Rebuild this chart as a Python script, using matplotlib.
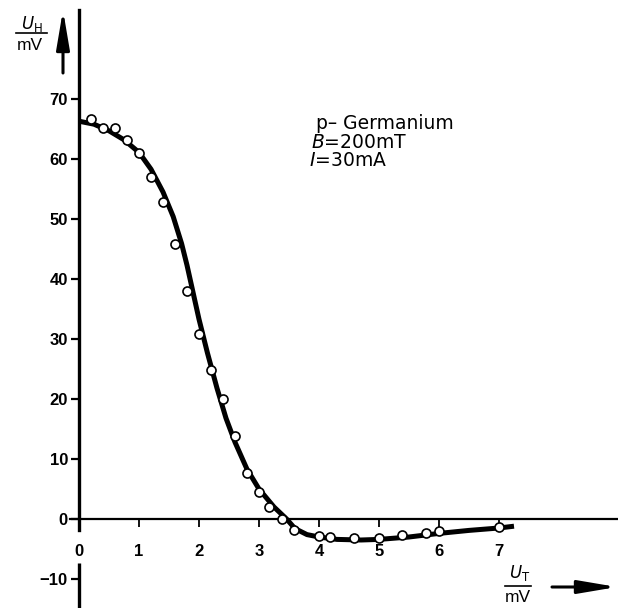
import matplotlib
matplotlib.use("Agg")
import matplotlib.pyplot as plt
from matplotlib.lines import Line2D

ut_meas = [0.2, 0.4, 0.6, 0.8, 1.0, 1.2, 1.4, 1.6, 1.8, 2.0, 2.2, 2.4, 2.6, 2.8,
           3.0, 3.17, 3.38, 3.58, 4.0, 4.18, 4.58, 5.0, 5.38, 5.78, 6.0, 7.0]
uh_meas = [66.7, 65.2, 65.2, 63.1, 61.0, 57.0, 52.9, 45.9, 38.0, 30.8, 24.8, 20.0, 13.8, 7.7,
           4.5, 2.0, 0.0, -1.8, -2.8, -3.0, -3.2, -3.2, -2.7, -2.4, -2.0, -1.4]

# drawn fit curve
ut_curve = [0.0, 0.25, 0.5, 0.75, 1.0, 1.2, 1.4, 1.57, 1.71, 1.8, 1.88, 2.0, 2.14,
            2.3, 2.45, 2.6, 2.8, 3.0, 3.25, 3.46, 3.6, 3.8, 4.0, 4.3, 4.7, 5.0, 5.5,
            6.0, 6.5, 7.0, 7.25]
uh_curve = [66.3, 65.8, 64.7, 63.2, 61.1, 58.3, 54.5, 50.4, 45.9, 42.3, 38.7, 33.3, 27.7,
            21.8, 16.8, 12.8, 8.3, 5.0, 2.0, 0.0, -1.6, -2.6, -3.0, -3.4, -3.5, -3.4, -3.0,
            -2.4, -1.9, -1.5, -1.2]

xticks = [0, 1, 2, 3, 4, 5, 6, 7]
yticks = [-10, 0, 10, 20, 30, 40, 50, 60, 70]

W, H = 618, 608
X0, Y0 = 79, 519      # pixel position of the origin
SX, SY = 60.0, 6.0    # pixels per unit

plt.rcParams['font.family'] = ['Liberation Sans', 'DejaVu Sans']
plt.rcParams['mathtext.fontset'] = 'custom'
plt.rcParams['mathtext.rm'] = 'DejaVu Sans'
plt.rcParams['mathtext.it'] = 'DejaVu Sans:italic'
plt.rcParams['mathtext.bf'] = 'DejaVu Sans:bold'


def fp(x, y):
    # pixel (from top-left) -> figure fraction
    return x / W, 1 - y / H


def dx(px):
    return (px - X0) / SX


def dy(py):
    return (Y0 - py) / SY


def main():
    fig = plt.figure(figsize=(W / 100, H / 100), dpi=100)
    ax = fig.add_axes([0, 0, 1, 1])
    ax.set_xlim(dx(0), dx(W))
    ax.set_ylim(dy(H), dy(0))
    ax.patch.set_visible(False)

    for s in ['top', 'right']:
        ax.spines[s].set_visible(False)
    # y axis is broken around the "0" of the x axis
    ax.spines['left'].set_position(('data', 0))
    ax.spines['left'].set_bounds(dy(530), dy(10))
    ax.spines['left'].set_linewidth(2.4)
    ax.plot([0, 0], [dy(H), dy(563)], color='black', lw=2.4, solid_capstyle='butt',
            clip_on=False)
    ax.spines['bottom'].set_position(('data', 0))
    ax.spines['bottom'].set_bounds(dx(70), dx(W))
    ax.spines['bottom'].set_linewidth(1.6)

    ax.set_xticks(xticks)
    ax.set_yticks(yticks)
    ax.tick_params(axis='y', direction='out', length=6, width=1.6, labelsize=12, pad=2)
    ax.tick_params(axis='x', direction='out', length=6, width=1.3, labelsize=12, pad=12)
    for lbl in ax.get_xticklabels() + ax.get_yticklabels():
        lbl.set_fontweight('bold')

    ax.plot(ut_curve, uh_curve, color='black', lw=3.6, solid_capstyle='butt',
            solid_joinstyle='round', zorder=3)
    ax.plot(ut_meas, uh_meas, 'o', ms=6.5, mfc='white', mec='black', mew=1.2, zorder=4)

    # sample info
    ax.text(dx(316), dy(124), 'p\u2013 Germanium', family='DejaVu Sans',
            fontsize=13.5, va='center', ha='left')
    ax.text(dx(311), dy(143), r'$B$=200mT', family='DejaVu Sans',
            fontsize=13.5, va='center', ha='left')
    ax.text(dx(309), dy(161), r'$I$=30mA', family='DejaVu Sans',
            fontsize=13.5, va='center', ha='left')

    # axis quantity labels as fractions
    fig.text(*fp(32, 24), r'$U_\mathrm{H}$', fontsize=12, ha='center', va='center')
    fig.add_artist(Line2D([16 / W, 47 / W], [1 - 33 / H, 1 - 33 / H], color='black', lw=1.2))
    fig.text(*fp(30, 45), 'mV', fontsize=12.5, ha='center', va='center')

    fig.text(*fp(520, 573), r'$U_\mathrm{T}$', fontsize=12, ha='center', va='center')
    fig.add_artist(Line2D([505 / W, 531 / W], [1 - 586 / H, 1 - 586 / H], color='black', lw=1.2))
    fig.text(*fp(518, 598), 'mV', fontsize=12.5, ha='center', va='center')

    arrow = dict(arrowstyle='-|>,head_length=1.3,head_width=0.22', lw=2.2, color='black',
                 mutation_scale=18, shrinkA=0, shrinkB=0)
    ax.annotate('', xy=(63, H - 10), xytext=(63, H - 73), xycoords='figure pixels',
                textcoords='figure pixels', arrowprops=arrow)
    ax.annotate('', xy=(617, H - 587), xytext=(552, H - 587), xycoords='figure pixels',
                textcoords='figure pixels', arrowprops=arrow)

    fig.savefig('out.png', dpi=100)


if __name__ == "__main__":
    main()
